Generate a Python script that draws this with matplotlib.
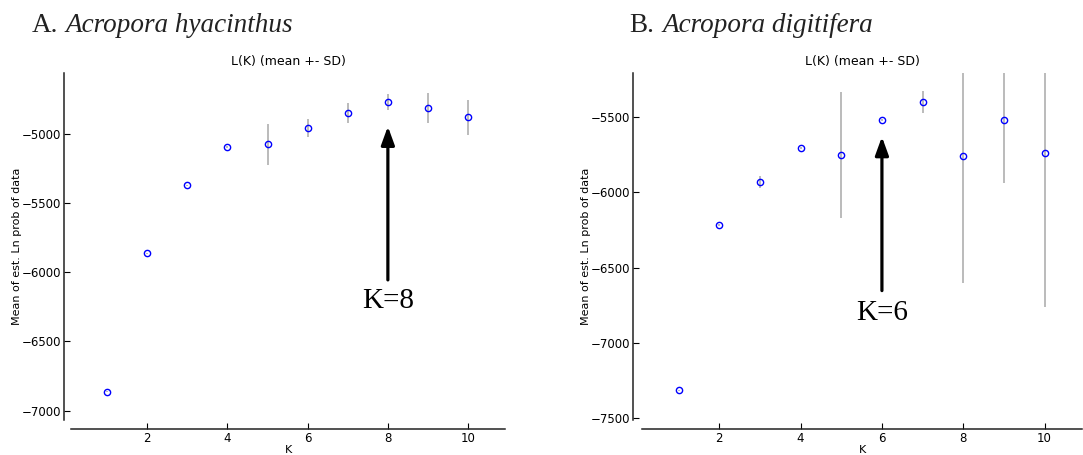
import matplotlib
matplotlib.use('Agg')
import matplotlib.pyplot as plt

k = [1, 2, 3, 4, 5, 6, 7, 8, 9, 10]

# A. Acropora hyacinthus
hya_mean = [-6863, -5865, -5371, -5096, -5077, -4957, -4851, -4771, -4812, -4882]
hya_sd = [3, 3, 3, 5, 147, 65, 72, 60, 108, 124]

# B. Acropora digitifera
dig_mean = [-7313, -6216, -5932, -5707, -5753, -5520, -5401, -5757, -5520, -5740]
dig_sd = [4, 5, 38, 6, 418, 5, 75, 844, 420, 1019]

W, H = 1083, 455
fig = plt.figure(figsize=(W / 100, H / 100), dpi=100)


def make_axes(x0, x1, y0, y1):
    return fig.add_axes([x0 / W, 1 - y1 / H, (x1 - x0) / W, (y1 - y0) / H])


def panel(ax, mean, sd, ylim, yticks, best, arrow_tip, arrow_tail, text_y, loff, boff):
    ax.errorbar(k, mean, yerr=sd, fmt='none', ecolor='#a8a8a8', elinewidth=1.1,
                capsize=0, zorder=1, clip_on=True)
    ax.plot(k, mean, 'o', mfc='none', mec='blue', ms=4.5, mew=1, zorder=2)
    ax.set_xlim(0.1, 10.92)
    ax.set_ylim(*ylim)
    ax.set_xticks([2, 4, 6, 8, 10])
    ax.set_yticks(yticks)
    ax.spines['top'].set_visible(False)
    ax.spines['right'].set_visible(False)
    # offsets are in points (px * 0.72 at 100 dpi)
    ax.spines['left'].set_position(('outward', loff * 0.72))
    ax.spines['bottom'].set_position(('outward', boff * 0.72))
    for s in ('left', 'bottom'):
        ax.spines[s].set_linewidth(1.1)
        ax.spines[s].set_color('#222222')
    ax.tick_params(direction='in', length=4, labelsize=8.5, pad=2)
    ax.set_title('L(K) (mean +- SD)', fontsize=9, pad=6)
    ax.set_ylabel('Mean of est. Ln prob of data', fontsize=8, labelpad=0)
    ax.set_xlabel('K', fontsize=8, labelpad=0)
    ax.annotate('', xy=(best, arrow_tip), xytext=(best, arrow_tail),
                arrowprops=dict(arrowstyle='-|>,head_length=1.1,head_width=0.4',
                                color='black', lw=2.3, shrinkA=0, shrinkB=0))
    ax.text(best, text_y, 'K=%d' % best, ha='center', va='center',
            fontsize=21, family='Liberation Serif')


ax1 = make_axes(71, 505, 73, 420)
panel(ax1, hya_mean, hya_sd, (-7068, -4561), [-7000, -6500, -6000, -5500, -5000],
      8, -4947, -6056, -6205, 7, 9)

ax2 = make_axes(642, 1082, 73, 420)
panel(ax2, dig_mean, dig_sd, (-7510, -5209), [-7500, -7000, -6500, -6000, -5500],
      6, -5632, -6652, -6800, 9, 9)

yb = 1 - 32 / H
fig.text(32 / W, yb, 'A.', fontsize=19.5, family='Liberation Serif', va='baseline', color='#222222')
fig.text(65 / W, yb, 'Acropora hyacinthus', fontsize=19.5, family='Liberation Serif',
         style='italic', va='baseline', color='#222222')
fig.text(629 / W, yb, 'B.', fontsize=19.5, family='Liberation Serif', va='baseline', color='#222222')
fig.text(662 / W, yb, 'Acropora digitifera', fontsize=19.5, family='Liberation Serif',
         style='italic', va='baseline', color='#222222')

fig.savefig('out.png', dpi=100)
